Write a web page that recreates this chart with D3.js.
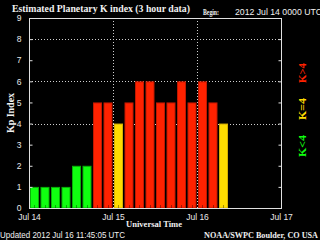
<!DOCTYPE html>
<html>
<head>
<meta charset="utf-8">
<script src="https://cdn.jsdelivr.net/npm/d3@7"></script>
<style>
  html, body { margin: 0; padding: 0; background: #000; overflow: hidden; }
  svg { display: block; }
</style>
</head>
<body>
<svg id="svg-kp"></svg>
<script>
// data
var barTimes = ["2012-07-14T00:00Z", "2012-07-14T03:00Z", "2012-07-14T06:00Z", "2012-07-14T09:00Z",
    "2012-07-14T12:00Z", "2012-07-14T15:00Z", "2012-07-14T18:00Z", "2012-07-14T21:00Z",
    "2012-07-15T00:00Z", "2012-07-15T03:00Z", "2012-07-15T06:00Z", "2012-07-15T09:00Z",
    "2012-07-15T12:00Z", "2012-07-15T15:00Z", "2012-07-15T18:00Z", "2012-07-15T21:00Z",
    "2012-07-16T00:00Z", "2012-07-16T03:00Z", "2012-07-16T06:00Z"]
var kpValues = [1, 1, 1, 1, 2, 2, 5, 5, 4, 5, 6, 6, 5, 5, 6, 5, 6, 5, 4]
var dayTicks = ["2012-07-14T00:00Z", "2012-07-15T00:00Z", "2012-07-16T00:00Z", "2012-07-17T00:00Z"]
var kpTicks = [0, 1, 2, 3, 4, 5, 6, 7, 8, 9]
var kpGrid = [4, 6, 8]
var dayGrid = ["2012-07-15T00:00Z", "2012-07-16T00:00Z"]

var width = 320,
    height = 240
var svg = d3.select("#svg-kp")
    .attr("width", width)
    .attr("height", height)
svg.append("rect").attr("width", width).attr("height", height).attr("fill", "#000")

// plot box (window.top is reserved, so plot_ names)
var plot_l = 29, plot_r = 281, plot_t = 18, plot_b = 208
var x = d3.scaleUtc()
    .domain([new Date(dayTicks[0]), new Date(dayTicks[3])])
    .range([plot_l, plot_r])
var y = d3.scaleLinear()
    .domain([0, 9])
    .range([plot_b, plot_t])

var serif = "'Liberation Serif', 'DejaVu Serif', serif"
var sans = "'Liberation Sans', 'DejaVu Sans', sans-serif"

// 颜色
function barColor(v) {
    if (v < 4) return "#10ff10"
    if (v == 4) return "#ffdc00"
    return "#ff2200"
}
function barEdge(v) {
    if (v < 4) return "#08b008"
    if (v == 4) return "#d8b000"
    return "#c01800"
}

// grid
svg.append("g")
    .selectAll("line")
    .data(kpGrid)
    .enter().append("line")
    .attr("x1", plot_l).attr("x2", plot_r)
    .attr("y1", function (d) { return Math.round(y(d)) + 0.5 })
    .attr("y2", function (d) { return Math.round(y(d)) + 0.5 })
    .attr("stroke", "#cfcfcf")
    .attr("stroke-dasharray", "1,2")
svg.append("g")
    .selectAll("line")
    .data(dayGrid)
    .enter().append("line")
    .attr("x1", function (d) { return Math.round(x(new Date(d))) + 0.5 })
    .attr("x2", function (d) { return Math.round(x(new Date(d))) + 0.5 })
    .attr("y1", plot_t).attr("y2", plot_b)
    .attr("stroke", "#cfcfcf")
    .attr("stroke-dasharray", "1,2")

// bars
var step = 3 * 3600 * 1000
var bars = svg.append("g")
    .selectAll("g")
    .data(barTimes.map(function (t, i) { return { t: new Date(t), v: kpValues[i] } }))
    .enter().append("g")
bars.append("rect")
    .attr("x", function (d) { return x(d.t) + 1.5 })
    .attr("y", function (d) { return y(d.v) + 0.5 })
    .attr("width", function (d) { return x(new Date(+d.t + step)) - x(d.t) - 2.5 })
    .attr("height", function (d) { return y(0) - y(d.v) - 0.5 })
    .attr("fill", function (d) { return barColor(d.v) })
    .attr("stroke", function (d) { return barEdge(d.v) })
    .attr("stroke-width", 1)
bars.append("line")
    .attr("x1", function (d) { return Math.round(x(new Date(+d.t + step / 2))) + 0.5 })
    .attr("x2", function (d) { return Math.round(x(new Date(+d.t + step / 2))) + 0.5 })
    .attr("y1", plot_b - 3).attr("y2", plot_b)
    .attr("stroke", "#000")
    .attr("stroke-opacity", 0.35)

// axes
svg.append("g")
    .attr("transform", "translate(" + (plot_l + 0.5) + ",0)")
    .call(d3.axisLeft(y).tickValues(kpTicks).tickSize(-3).tickPadding(8).tickFormat(d3.format("d")))
svg.append("g")
    .attr("transform", "translate(" + (plot_r + 0.5) + ",0)")
    .call(d3.axisRight(y).tickValues(kpTicks).tickSize(-3).tickFormat(""))
svg.append("g")
    .attr("transform", "translate(0," + (plot_b + 0.5) + ")")
    .call(d3.axisBottom(x).tickValues(dayTicks.map(function (d) { return new Date(d) }))
        .tickSize(0).tickPadding(5).tickFormat(d3.utcFormat("%b %d")))
svg.selectAll(".domain").remove()
svg.selectAll(".tick line").attr("stroke", "#e0e0e0")
svg.selectAll(".tick text")
    .attr("fill", "#e8e8e8")
    .style("font-family", sans)
    .style("font-size", "8.5px")

// frame
svg.append("rect")
    .attr("x", plot_l + 0.5).attr("y", plot_t + 0.5)
    .attr("width", plot_r - plot_l).attr("height", plot_b - plot_t)
    .attr("fill", "none")
    .attr("stroke", "#e0e0e0")

// texts
function label(txt, px, py, opt) {
    var t = svg.append("text")
        .attr("x", px).attr("y", py)
        .attr("fill", opt.fill || "#f0f0f0")
        .style("font-family", opt.font || serif)
        .style("font-weight", opt.bold ? "bold" : "normal")
        .style("font-size", opt.size + "px")
        .attr("text-anchor", opt.anchor || "start")
        .text(txt)
    if (opt.len) t.attr("textLength", opt.len).attr("lengthAdjust", "spacingAndGlyphs")
    if (opt.rotate) t.attr("transform", "rotate(-90," + px + "," + py + ")")
    return t
}
label("Estimated Planetary K index (3 hour data)", 12, 12, { bold: true, size: 9.5, len: 178 })
label("Begin:", 203, 15, { bold: true, size: 8.5, len: 16 })
label("2012 Jul 14 0000 UTC", 235, 15, { font: sans, size: 9, len: 87 })
label("Universal Time", 154, 227, { bold: true, size: 9, anchor: "middle", len: 56 })
label("Updated 2012 Jul 16 11:45:05 UTC", 0, 238, { font: sans, size: 9, len: 125 })
label("NOAA/SWPC Boulder, CO USA", 204, 238, { bold: true, size: 9, len: 114 })
label("Kp Index", 14, 113, { bold: true, size: 9.5, anchor: "middle", rotate: true, len: 40 })
label("K>4", 306, 73, { bold: true, size: 10, anchor: "middle", rotate: true, fill: "#ff2200", len: 20 })
label("K=4", 306, 109, { bold: true, size: 10, anchor: "middle", rotate: true, fill: "#ffdc00", len: 22 })
label("K<4", 306, 146, { bold: true, size: 10, anchor: "middle", rotate: true, fill: "#10ff10", len: 22 })
</script>
</body>
</html>
